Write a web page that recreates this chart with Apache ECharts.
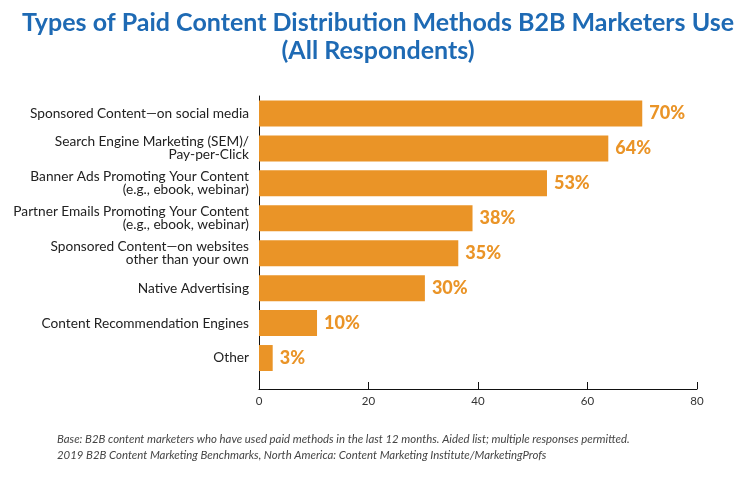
<!DOCTYPE html>
<html><head><meta charset="utf-8">
<script src="https://cdn.jsdelivr.net/npm/echarts@6/dist/echarts.min.js"></script>
<style>html,body{margin:0;padding:0;background:#fff}#c{width:756px;height:478px}</style>
</head><body><div id="c"></div>
<script>
const categories = [
  "Sponsored Content\u2014on social media",
  "Search Engine Marketing (SEM)/\nPay-per-Click",
  "Banner Ads Promoting Your Content\n(e.g., ebook, webinar)",
  "Partner Emails Promoting Your Content\n(e.g., ebook, webinar)",
  "Sponsored Content\u2014on websites\nother than your own",
  "Native Advertising",
  "Content Recommendation Engines",
  "Other"
];
// bar lengths as drawn in the picture
const values = [70, 63.8, 52.6, 39, 36.4, 30.3, 10.6, 2.5];
// printed value labels
const valueLabels = ["70%", "64%", "53%", "38%", "35%", "30%", "10%", "3%"];
const xTicks = [0, 20, 40, 60, 80];
const titleText = "Types of Paid Content Distribution Methods B2B Marketers Use\n(All Respondents)";
const footnotes = [
  "Base: B2B content marketers who have used paid methods in the last 12 months. Aided list; multiple responses permitted.",
  "2019 B2B Content Marketing Benchmarks, North America: Content Marketing Institute/MarketingProfs"
];

const chart = echarts.init(document.getElementById('c'));
const orange = '#EA9427';
chart.setOption({
  animation: false,
  title: {
    text: titleText,
    left: 'center',
    top: 4,
    padding: [5, 32, 5, 5],
    textStyle: { fontFamily: 'Lato', fontWeight: 'bold', fontSize: 25, lineHeight: 28, color: '#1E6AB4', align: 'center' }
  },
  grid: { left: 259, right: 59, top: 96, bottom: 102.5, containLabel: false },
  xAxis: {
    type: 'value', min: xTicks[0], max: xTicks[xTicks.length - 1], interval: 20,
    offset: 13.5,
    axisLine: { show: true, lineStyle: { color: '#111', width: 1 } },
    axisTick: { show: true, inside: true, length: 7, lineStyle: { color: '#111' } },
    axisLabel: { color: '#333', fontFamily: 'Lato', fontSize: 11.5, margin: 6 },
    splitLine: { show: false }
  },
  yAxis: {
    type: 'category', data: categories, inverse: true,
    axisLine: { show: true, lineStyle: { color: '#111', width: 1 } },
    axisTick: { show: false },
    axisLabel: { color: '#222', fontFamily: 'Lato', fontSize: 13.7, lineHeight: 13, margin: 10, align: 'right' }
  },
  series: [{
    type: 'bar', data: values, barWidth: 26,
    itemStyle: { color: orange },
    label: { show: true, position: 'right', distance: 7, formatter: p => valueLabels[p.dataIndex], color: orange, fontFamily: 'Lato', fontWeight: 900, fontSize: 18 }
  }],
  graphic: [
    { type: 'line', shape: { x1: 259.5, y1: 375, x2: 259.5, y2: 389 }, style: { stroke: '#111', lineWidth: 1 } },
    { type: 'text', left: 57, top: 434, style: { text: footnotes[0], font: 'italic 11.4px Lato', fill: '#444' } },
    { type: 'text', left: 57, top: 450, style: { text: footnotes[1], font: 'italic 11.4px Lato', fill: '#444' } }
  ]
});
</script></body></html>
